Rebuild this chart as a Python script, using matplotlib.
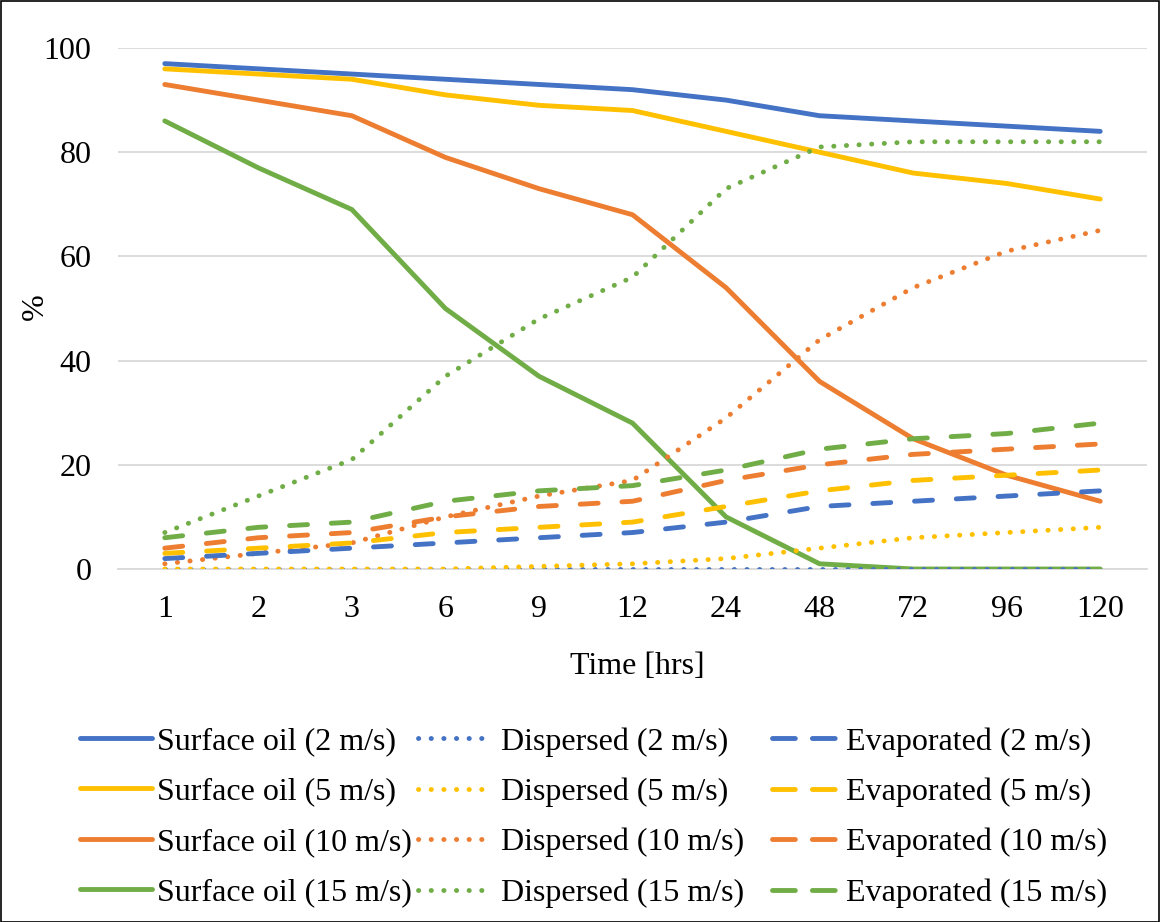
import matplotlib.pyplot as plt
from matplotlib.lines import Line2D
from matplotlib.patches import Rectangle

plt.rcParams['font.family'] = ['Liberation Serif', 'DejaVu Serif']

time_labels = ['1', '2', '3', '6', '9', '12', '24', '48', '72', '96', '120']

surface_2 = [97, 96, 95, 94, 93, 92, 90, 87, 86, 85, 84]
surface_5 = [96, 95, 94, 91, 89, 88, 84, 80, 76, 74, 71]
surface_10 = [93, 90, 87, 79, 73, 68, 54, 36, 25, 18, 13]
surface_15 = [86, 77, 69, 50, 37, 28, 10, 1, 0, 0, 0]

dispersed_2 = [0, 0, 0, 0, 0, 0, 0, 0, 0, 0, 0]
dispersed_5 = [0, 0, 0, 0, 0.5, 1, 2, 4, 6, 7, 8]
dispersed_10 = [1, 3, 5, 10, 14, 17, 29, 44, 54, 61, 65]
dispersed_15 = [7, 14, 21, 37, 48, 56, 73, 81, 82, 82, 82]

evaporated_2 = [2, 3, 4, 5, 6, 7, 9, 12, 13, 14, 15]
evaporated_5 = [3, 4, 5, 7, 8, 9, 12, 15, 17, 18, 19]
evaporated_10 = [4, 6, 7, 10, 12, 13, 17, 20, 22, 23, 24]
evaporated_15 = [6, 8, 9, 13, 15, 16, 19, 23, 25, 26, 28]

speeds = ['2 m/s', '5 m/s', '10 m/s', '15 m/s']
colors = ['#4472C4', '#FFC000', '#ED7D31', '#70AD47']

surface = [surface_2, surface_5, surface_10, surface_15]
dispersed = [dispersed_2, dispersed_5, dispersed_10, dispersed_15]
evaporated = [evaporated_2, evaporated_5, evaporated_10, evaporated_15]

FS = 23
W, H = 1161, 922

fig = plt.figure(figsize=(W / 100, H / 100), dpi=100)
ax = fig.add_axes([118 / W, 1 - 569 / H, 1029 / W, (569 - 48) / H])

x = list(range(len(time_labels)))
lw = 3.5
dot_style = (0, (0.05, 2.55))
dash_style = (0, (3.7, 4.9))

for i in range(4):
    ax.plot(x, surface[i], color=colors[i], lw=lw, solid_capstyle='round',
            solid_joinstyle='round', zorder=3)
for i in range(4):
    ax.plot(x, dispersed[i], color=colors[i], lw=lw, dash_capstyle='round',
            linestyle=dot_style, zorder=3)
for i in range(4):
    ax.plot(x, evaporated[i], color=colors[i], lw=lw, dash_capstyle='round',
            linestyle=dash_style, zorder=3)

ax.set_xlim(-0.5, len(time_labels) - 0.5)
ax.set_ylim(0, 100)
ax.set_xticks(x)
ax.set_xticklabels(time_labels)
ax.set_yticks([0, 20, 40, 60, 80, 100])
ax.tick_params(axis='both', length=0, labelsize=FS, colors='black')
ax.tick_params(axis='x', pad=19)
ax.tick_params(axis='y', pad=19)

ax.grid(axis='y', color='#D9D9D9', lw=1.3, zorder=0)
for side in ['top', 'right', 'left']:
    ax.spines[side].set_visible(False)
ax.spines['bottom'].set_color('#D9D9D9')
ax.spines['bottom'].set_linewidth(1.3)

ax.set_xlabel('Time [hrs]', fontsize=FS)
ax.xaxis.set_label_coords(0.505, (569 - 652) / 521)
ax.set_ylabel('%', fontsize=FS)
ax.yaxis.set_label_coords((50 - 118) / 1029, (569 - 307) / 521)

# Legend: three columns (surface / dispersed / evaporated), one row per wind speed
columns = [
    ('Surface oil', '-', 80, 2.25, 0.16),
    ('Dispersed', (0, (0.05, 2.55)), 418, 2.3, 0.3),
    ('Evaporated', (0, (4.7, 3.5)), 772, 2.05, 0.28),
]
for name, style, x0, hlen, hpad in columns:
    hs, ls = [], []
    for i in range(4):
        hs.append(Line2D([], [], color=colors[i], lw=lw, linestyle=style,
                         solid_capstyle='round', dash_capstyle='round'))
        ls.append(f'{name} ({speeds[i]})')
    fig.legend(hs, ls, loc='upper left', bbox_to_anchor=(x0 / W, 1 - 727 / H),
               frameon=False, fontsize=FS, handlelength=hlen,
               handletextpad=hpad, labelspacing=0.655, borderpad=0,
               borderaxespad=0)

fig.patches.append(Rectangle((0.0005, 0.0005), 0.998, 0.998, transform=fig.transFigure,
                             fill=False, edgecolor='black', lw=1.2))

fig.savefig('out.png', dpi=100)
